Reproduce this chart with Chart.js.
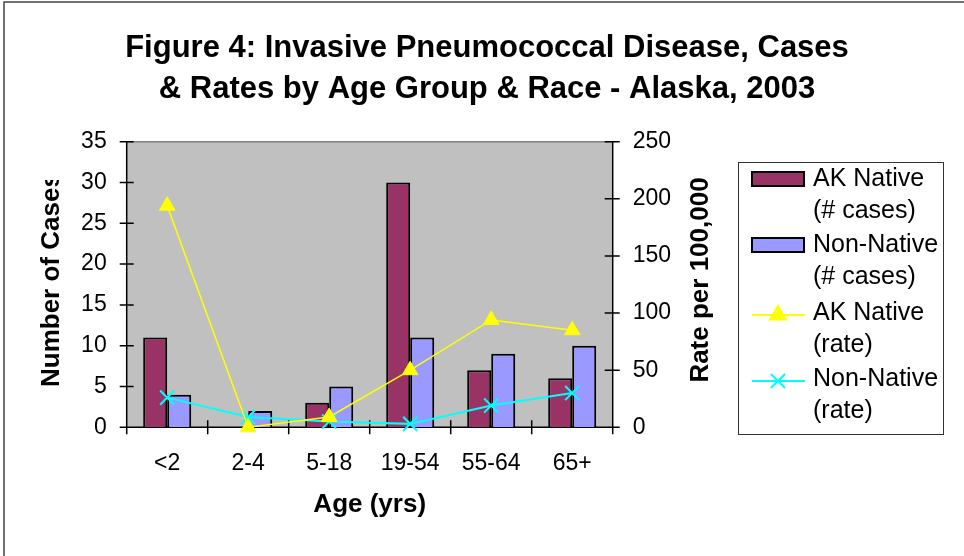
<!DOCTYPE html>
<html>
<head>
<meta charset="utf-8">
<title>Invasive Pneumococcal Disease - Alaska, 2003</title>
<script src="https://cdn.jsdelivr.net/npm/chart.js@4/dist/chart.umd.min.js"></script>
<style>
  html, body { margin: 0; padding: 0; background: #fff; }
  #wrap { width: 964px; height: 556px; }
</style>
</head>
<body>
<div id="wrap"><canvas id="chart" width="964" height="556"></canvas></div>
<script>
// ── Data ─────────────────────────────────────────
const ageGroups      = ['<2', '2-4', '5-18', '19-54', '55-64', '65+'];
const nativeCases    = [11, 0, 3, 30, 7, 6];
const nonNativeCases = [4, 2, 5, 11, 9, 10];
const nativeRate     = [194, 0, 9, 50, 94, 85];
const nonNativeRate  = [26, 9, 5, 3, 19, 30];

const titleLines  = ['Figure 4: Invasive Pneumococcal Disease, Cases', '& Rates by Age Group & Race - Alaska, 2003'];
const xTitle      = 'Age (yrs)';
const yLeftTitle  = 'Number of Cases';
const yRightTitle = 'Rate per 100,000';
const legendLines = [
  ['AK Native', '(# cases)'],
  ['Non-Native', '(# cases)'],
  ['AK Native', '(rate)'],
  ['Non-Native', '(rate)'],
];

const FONT = "'Liberation Sans', Arial, sans-serif";
const C_NATIVE = '#993366';
const C_NON    = '#9999FF';
const C_YEL    = '#FFFF00';
const C_CYAN   = '#00FFFF';

// ── Plot frame, ticks, axis titles, legend ───────
const framePlugin = {
  id: 'frame',
  beforeDraw(chart) {
    const { ctx, chartArea: a } = chart;
    ctx.save();
    ctx.fillStyle = '#fff';
    ctx.fillRect(0, 0, chart.width, chart.height);
    // outer border (top + left only visible in the source)
    ctx.strokeStyle = '#444';
    ctx.lineWidth = 1.5;
    ctx.beginPath();
    ctx.moveTo(4, chart.height);
    ctx.lineTo(4, 2);
    ctx.lineTo(chart.width, 2);
    ctx.stroke();
    ctx.fillStyle = '#C0C0C0';
    ctx.fillRect(a.left, a.top, a.right - a.left, a.bottom - a.top);
    ctx.restore();
  },
  beforeDatasetsDraw(chart) {
    const { ctx, chartArea: a, scales } = chart;
    ctx.save();
    ctx.lineWidth = 1.5;
    ctx.strokeStyle = '#808080';
    ctx.beginPath();
    ctx.moveTo(a.left, a.top); ctx.lineTo(a.right, a.top);
    ctx.stroke();
    ctx.strokeStyle = '#000';
    ctx.beginPath();
    ctx.moveTo(a.left, a.top); ctx.lineTo(a.left, a.bottom);
    ctx.lineTo(a.right, a.bottom); ctx.lineTo(a.right, a.top);
    // crossing tick marks
    scales.y.ticks.forEach(t => {
      const yy = scales.y.getPixelForValue(t.value);
      ctx.moveTo(a.left - 7, yy); ctx.lineTo(a.left + 7, yy);
    });
    scales.y1.ticks.forEach(t => {
      const yy = scales.y1.getPixelForValue(t.value);
      ctx.moveTo(a.right - 8, yy); ctx.lineTo(a.right + 7, yy);
    });
    const n = ageGroups.length;
    for (let i = 0; i <= n; i++) {
      const xx = scales.x.left + i * scales.x.width / n;
      ctx.moveTo(xx, a.bottom - 7); ctx.lineTo(xx, a.bottom + 7);
    }
    ctx.stroke();
    ctx.restore();
  },
  afterDraw(chart) {
    const { ctx } = chart;
    ctx.save();
    ctx.fillStyle = '#000';
    ctx.font = 'bold 26px ' + FONT;
    ctx.textBaseline = 'middle';

    // left title is cut off at the top in the source
    ctx.save();
    ctx.beginPath();
    ctx.rect(0, 180, 120, 260);
    ctx.clip();
    ctx.translate(52, 387);
    ctx.rotate(-Math.PI / 2);
    ctx.textAlign = 'left';
    ctx.fillText(yLeftTitle, 0, 0);
    ctx.restore();

    ctx.save();
    ctx.translate(701, 280);
    ctx.rotate(-Math.PI / 2);
    ctx.textAlign = 'center';
    ctx.fillText(yRightTitle, 0, 0);
    ctx.restore();

    // legend box
    ctx.strokeStyle = '#333';
    ctx.lineWidth = 1;
    ctx.strokeRect(738.5, 162.5, 205, 272);
    ctx.font = '25px ' + FONT;
    ctx.textAlign = 'left';
    const rowY = [179, 245, 313, 379];
    chart.data.datasets.forEach((ds, i) => {
      const y = rowY[i];
      if (ds.type === 'line') {
        ctx.strokeStyle = ds.borderColor;
        ctx.lineWidth = 2;
        ctx.beginPath();
        ctx.moveTo(752, y + 2); ctx.lineTo(805, y + 2);
        ctx.stroke();
        ctx.fillStyle = ds.pointBackgroundColor;
        ctx.strokeStyle = ds.pointBorderColor;
        Chart.helpers.drawPoint(ctx, {
          pointStyle: ds.pointStyle, radius: ds.pointRadius,
          borderWidth: ds.pointBorderWidth, rotation: 0
        }, 778, y + 2);
      } else {
        ctx.fillStyle = ds.backgroundColor;
        ctx.fillRect(752, y - 7, 52, 14);
        ctx.strokeStyle = '#000';
        ctx.lineWidth = 2;
        ctx.strokeRect(752, y - 7, 52, 14);
      }
      ctx.fillStyle = '#000';
      ctx.fillText(legendLines[i][0], 813, y);
      ctx.fillText(legendLines[i][1], 813, y + 32);
    });
    ctx.restore();
  }
};

new Chart(document.getElementById('chart'), {
  data: {
    labels: ageGroups,
    datasets: [
      {
        type: 'bar', label: 'AK Native (# cases)', data: nativeCases, yAxisID: 'y',
        backgroundColor: C_NATIVE, borderColor: '#000', borderWidth: 2,
        categoryPercentage: 0.593, barPercentage: 1, order: 2,
      },
      {
        type: 'bar', label: 'Non-Native (# cases)', data: nonNativeCases, yAxisID: 'y',
        backgroundColor: C_NON, borderColor: '#000', borderWidth: 2,
        categoryPercentage: 0.593, barPercentage: 1, order: 2,
      },
      {
        type: 'line', label: 'AK Native (rate)', data: nativeRate, yAxisID: 'y1',
        borderColor: C_YEL, borderWidth: 1.5, tension: 0, clip: false,
        pointStyle: 'triangle', pointRadius: 9, pointBorderWidth: 1,
        pointBackgroundColor: C_YEL, pointBorderColor: C_YEL, order: 1,
      },
      {
        type: 'line', label: 'Non-Native (rate)', data: nonNativeRate, yAxisID: 'y1',
        borderColor: C_CYAN, borderWidth: 2, tension: 0, clip: false,
        pointStyle: 'crossRot', pointRadius: 10, pointBorderWidth: 2,
        pointBackgroundColor: C_CYAN, pointBorderColor: C_CYAN, order: 1,
      },
    ]
  },
  options: {
    responsive: false,
    animation: false,
    layout: { padding: { left: 10, right: 0, top: 0, bottom: 0 } },
    plugins: {
      legend: { display: false },
      tooltip: { enabled: false },
      title: {
        display: true,
        text: titleLines,
        color: '#000',
        font: { family: FONT, size: 31, weight: 'bold', lineHeight: '41px' },
        padding: { top: 28, bottom: 31.7 },
      },
    },
    scales: {
      x: {
        grid: { display: false, drawTicks: false },
        border: { display: false },
        ticks: { color: '#000', font: { family: FONT, size: 23 }, padding: 23, maxRotation: 0, autoSkip: false },
        title: { display: true, text: xTitle, color: '#000', font: { family: FONT, size: 26, weight: 'bold' }, padding: { top: 0, bottom: 36 } },
        afterFit: s => { s.height = 128.7; },
      },
      y: {
        position: 'left', min: 0, max: 35,
        grid: { display: false, drawTicks: false },
        border: { display: false },
        ticks: { stepSize: 5, color: '#000', font: { family: FONT, size: 23 }, padding: 20 },
        afterFit: s => { s.width = 116.7; },
      },
      y1: {
        position: 'right', min: 0, max: 250,
        grid: { display: false, drawTicks: false },
        border: { display: false },
        ticks: { stepSize: 50, color: '#000', font: { family: FONT, size: 23 }, padding: 20 },
        afterFit: s => { s.width = 351.3; },
      },
    }
  },
  plugins: [framePlugin]
});
</script>
</body>
</html>
